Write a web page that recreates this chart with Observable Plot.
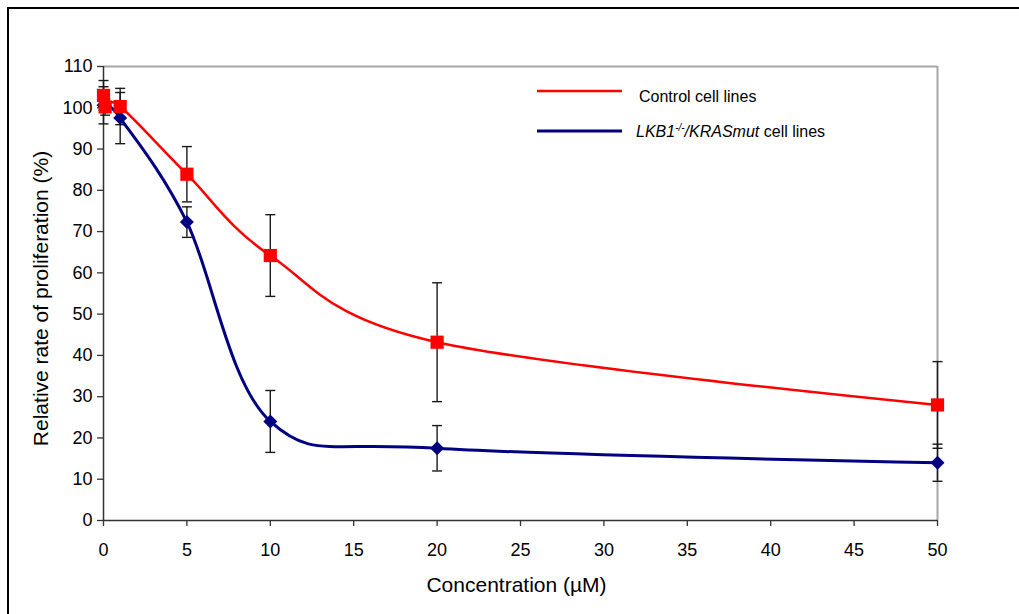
<!DOCTYPE html>
<html><head><meta charset="utf-8">
<script src="https://cdn.jsdelivr.net/npm/d3@7"></script>
<script src="https://cdn.jsdelivr.net/npm/@observablehq/plot@0.6"></script>
<style>
html,body{margin:0;padding:0;background:#fff;}
#wrap{position:relative;width:1019px;height:614px;overflow:hidden;font-family:"Liberation Sans",Arial,sans-serif;background:#fff;}
#frame{position:absolute;left:7px;top:7px;right:-10px;bottom:-10px;border-left:2px solid #000;border-top:2px solid #000;pointer-events:none;}
#chart svg{display:block;}
</style></head><body>
<div id="wrap"><div id="chart"></div><div id="frame"></div></div>
<script>
// ---- data ----
const controlConc = [0, 0.1, 1, 5, 10, 20, 50];
const controlMean = [103.0, 100.2, 100.3, 83.9, 64.2, 43.2, 28.0];
const controlErr  = [3.6, 2.0, 4.4, 6.7, 9.9, 14.4, 10.5];

const mutConc = [0, 1, 5, 10, 20, 50];
const mutMean = [100.6, 97.5, 72.3, 24.0, 17.5, 14.0];
const mutErr  = [4.5, 6.2, 3.7, 7.5, 5.5, 4.5];

const xTicks = [0, 5, 10, 15, 20, 25, 30, 35, 40, 45, 50];
const yTicks = [0, 10, 20, 30, 40, 50, 60, 70, 80, 90, 100, 110];

const xTitle = "Concentration (µM)";
const yTitle = "Relative rate of proliferation (%)";
const controlName = "Control cell lines";
const mutNameParts = ["LKB1", "-/-", "/KRASmut", " cell lines"];

// ---- build tables ----
const controlData = controlConc.map((c, i) => ({conc: c, mean: controlMean[i], lo: controlMean[i] - controlErr[i], hi: controlMean[i] + controlErr[i]}));
const mutData = mutConc.map((c, i) => ({conc: c, mean: mutMean[i], lo: mutMean[i] - mutErr[i], hi: mutMean[i] + mutErr[i]}));

const RED = "#ff0000", NAVY = "#000080", BAR = "#1a1a1a";

const squareSym = {draw(ctx, size){ const r = Math.sqrt(size / Math.PI); ctx.moveTo(-r,-r); ctx.lineTo(r,-r); ctx.lineTo(r,r); ctx.lineTo(-r,r); ctx.closePath(); }};
const diamondSym = {draw(ctx, size){ const r = Math.sqrt(size / Math.PI); ctx.moveTo(0,-r); ctx.lineTo(r,0); ctx.lineTo(0,r); ctx.lineTo(-r,0); ctx.closePath(); }};
const capSym = {draw(ctx, size){ const r = Math.sqrt(size / Math.PI); ctx.moveTo(-r,0); ctx.lineTo(r,0); }};

const svg = Plot.plot({
  width: 1019, height: 614,
  marginLeft: 103, marginRight: 82, marginTop: 66, marginBottom: 94,
  style: {fontFamily: '"Liberation Sans", Arial, sans-serif', fontSize: "18px", color: "#000", background: "transparent", overflow: "visible"},
  x: {domain: [0, 50]},
  y: {domain: [0, 110]},
  marks: [
    Plot.ruleY([110], {stroke: "#a6a6a6", strokeWidth: 2}),
    Plot.ruleX([50], {stroke: "#a6a6a6", strokeWidth: 2}),
    Plot.axisY(yTicks, {tickSize: 6, tickPadding: 5, stroke: "#333", strokeWidth: 1.3, label: null, fontSize: 18}),
    Plot.axisX(xTicks, {tickSize: 6, tickPadding: 17, stroke: "#333", strokeWidth: 1.3, label: null, fontSize: 18}),
    Plot.ruleX([0], {stroke: "#333", strokeWidth: 1.5}),
    Plot.ruleY([0], {stroke: "#333", strokeWidth: 1.5}),
    Plot.text([yTitle], {frameAnchor: "left", textAnchor: "middle", lineAnchor: "middle", rotate: -90, dx: -62, dy: 5, fontSize: 21}),
    Plot.text([xTitle], {frameAnchor: "bottom", dy: 71, dx: -4, fontSize: 21}),
    // error bars
    Plot.ruleX(controlData, {x: "conc", y1: "lo", y2: "hi", stroke: BAR, strokeWidth: 1.4}),
    Plot.ruleX(mutData, {x: "conc", y1: "lo", y2: "hi", stroke: BAR, strokeWidth: 1.4}),
    Plot.dot(controlData, {x: "conc", y: "hi", symbol: capSym, r: 5, stroke: BAR, strokeWidth: 1.4}),
    Plot.dot(controlData, {x: "conc", y: "lo", symbol: capSym, r: 5, stroke: BAR, strokeWidth: 1.4}),
    Plot.dot(mutData, {x: "conc", y: "hi", symbol: capSym, r: 5, stroke: BAR, strokeWidth: 1.4}),
    Plot.dot(mutData, {x: "conc", y: "lo", symbol: capSym, r: 5, stroke: BAR, strokeWidth: 1.4}),
    // lines
    Plot.line(mutData, {x: "conc", y: "mean", curve: "cardinal", stroke: NAVY, strokeWidth: 3}),
    Plot.line(controlData, {x: "conc", y: "mean", curve: "cardinal", stroke: RED, strokeWidth: 2.5}),
    // markers
    Plot.dot(mutData, {x: "conc", y: "mean", symbol: diamondSym, r: 7, fill: NAVY, stroke: "none"}),
    Plot.dot(controlData, {x: "conc", y: "mean", symbol: squareSym, r: 6.6, fill: RED, stroke: "none"})
  ]
});

// legend (inside plot area, top right)
const s = d3.select(svg);
const lg = s.append("g").attr("font-family", '"Liberation Sans", Arial, sans-serif').attr("font-size", 16).attr("fill", "#000").attr("text-anchor", "start");
lg.append("line").attr("x1", 537).attr("x2", 622).attr("y1", 91).attr("y2", 91).attr("stroke", RED).attr("stroke-width", 2.5);
lg.append("text").attr("x", 639).attr("y", 102).text(controlName);
lg.append("line").attr("x1", 537).attr("x2", 622).attr("y1", 131).attr("y2", 131).attr("stroke", NAVY).attr("stroke-width", 3);
const t = lg.append("text").attr("x", 636).attr("y", 137);
t.append("tspan").attr("font-style", "italic").text(mutNameParts[0]);
t.append("tspan").attr("font-style", "italic").attr("font-size", 10).attr("dy", -6).text(mutNameParts[1]);
t.append("tspan").attr("font-style", "italic").attr("dy", 6).text(mutNameParts[2]);
t.append("tspan").text(mutNameParts[3]);

document.getElementById("chart").appendChild(svg);
</script>
</body></html>
